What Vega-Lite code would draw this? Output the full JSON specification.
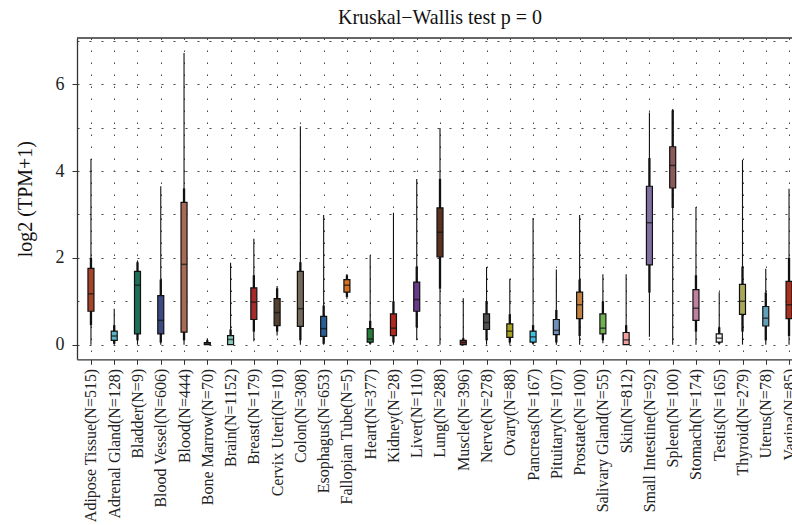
{
  "$schema": "https://vega.github.io/schema/vega-lite/v6.json",
  "autosize": {"type": "none"},
  "padding": {"left": 77, "top": 38, "right": 0, "bottom": 166},
  "width": 715,
  "height": 321.3,
  "background": "white",
  "config": {
    "view": {"stroke": null},
    "font": "Liberation Serif"
  },
  "title": {
    "text": "Kruskal−Wallis test p = 0",
    "font": "Liberation Serif",
    "fontSize": 20,
    "fontWeight": "normal",
    "color": "#111",
    "anchor": "middle",
    "frame": "group",
    "dx": 5.5,
    "offset": 9
  },
  "layer": [
    {
      "data": {
        "values": [
          {"tissue": "Adipose Tissue(N=515)", "min": 0, "lo": 0.45, "q1": 0.77, "med": 1.17, "q3": 1.76, "hi": 2.0, "max": 4.28},
          {"tissue": "Adrenal Gland(N=128)", "min": 0, "lo": 0.02, "q1": 0.1, "med": 0.2, "q3": 0.31, "hi": 0.45, "max": 0.83},
          {"tissue": "Bladder(N=9)", "min": 0, "lo": 0.1, "q1": 0.25, "med": 1.37, "q3": 1.69, "hi": 1.9, "max": 1.94},
          {"tissue": "Blood Vessel(N=606)", "min": 0, "lo": 0.05, "q1": 0.25, "med": 0.56, "q3": 1.13, "hi": 1.5, "max": 3.65},
          {"tissue": "Blood(N=444)", "min": 0, "lo": 0.1, "q1": 0.29, "med": 1.85, "q3": 3.28, "hi": 3.6, "max": 6.72},
          {"tissue": "Bone Marrow(N=70)", "min": 0, "lo": 0, "q1": 0.0, "med": 0.02, "q3": 0.05, "hi": 0.1, "max": 0.14},
          {"tissue": "Brain(N=1152)", "min": 0, "lo": 0, "q1": 0.0, "med": 0.12, "q3": 0.21, "hi": 0.35, "max": 1.89},
          {"tissue": "Breast(N=179)", "min": 0.08, "lo": 0.3, "q1": 0.58, "med": 0.98, "q3": 1.31, "hi": 1.6, "max": 2.44},
          {"tissue": "Cervix Uteri(N=10)", "min": 0.21, "lo": 0.3, "q1": 0.44, "med": 0.74, "q3": 1.06, "hi": 1.3, "max": 1.35},
          {"tissue": "Colon(N=308)", "min": 0, "lo": 0.1, "q1": 0.42, "med": 0.83, "q3": 1.69, "hi": 1.9, "max": 5.03},
          {"tissue": "Esophagus(N=653)", "min": 0, "lo": 0.02, "q1": 0.19, "med": 0.37, "q3": 0.65, "hi": 0.9, "max": 2.99},
          {"tissue": "Fallopian Tube(N=5)", "min": 1.06, "lo": 1.1, "q1": 1.21, "med": 1.37, "q3": 1.5, "hi": 1.6, "max": 1.63},
          {"tissue": "Heart(N=377)", "min": 0, "lo": 0.02, "q1": 0.06, "med": 0.13, "q3": 0.37, "hi": 0.55, "max": 2.06},
          {"tissue": "Kidney(N=28)", "min": 0, "lo": 0.05, "q1": 0.21, "med": 0.38, "q3": 0.71, "hi": 1.0, "max": 3.04},
          {"tissue": "Liver(N=110)", "min": 0.1, "lo": 0.4, "q1": 0.77, "med": 1.04, "q3": 1.44, "hi": 1.8, "max": 3.82},
          {"tissue": "Lung(N=288)", "min": 0, "lo": 1.29, "q1": 2.02, "med": 2.59, "q3": 3.15, "hi": 3.82, "max": 4.99},
          {"tissue": "Muscle(N=396)", "min": 0, "lo": 0, "q1": 0.0, "med": 0.05, "q3": 0.1, "hi": 0.15, "max": 1.07},
          {"tissue": "Nerve(N=278)", "min": 0, "lo": 0.1, "q1": 0.35, "med": 0.51, "q3": 0.71, "hi": 1.0, "max": 1.79},
          {"tissue": "Ovary(N=88)", "min": 0, "lo": 0.05, "q1": 0.17, "med": 0.31, "q3": 0.48, "hi": 0.7, "max": 1.52},
          {"tissue": "Pancreas(N=167)", "min": 0, "lo": 0.02, "q1": 0.06, "med": 0.18, "q3": 0.31, "hi": 0.45, "max": 2.92},
          {"tissue": "Pituitary(N=107)", "min": 0, "lo": 0.05, "q1": 0.23, "med": 0.33, "q3": 0.58, "hi": 0.8, "max": 1.73},
          {"tissue": "Prostate(N=100)", "min": 0, "lo": 0.2, "q1": 0.6, "med": 0.92, "q3": 1.21, "hi": 1.5, "max": 2.99},
          {"tissue": "Salivary Gland(N=55)", "min": 0.03, "lo": 0.1, "q1": 0.25, "med": 0.38, "q3": 0.71, "hi": 1.0, "max": 1.62},
          {"tissue": "Skin(N=812)", "min": 0, "lo": 0.02, "q1": 0.0, "med": 0.11, "q3": 0.28, "hi": 0.45, "max": 1.62},
          {"tissue": "Small Intestine(N=92)", "min": 0.18, "lo": 1.2, "q1": 1.84, "med": 2.81, "q3": 3.65, "hi": 4.3, "max": 5.35},
          {"tissue": "Spleen(N=100)", "min": 0, "lo": 3.15, "q1": 3.61, "med": 4.13, "q3": 4.56, "hi": 5.4, "max": 5.43},
          {"tissue": "Stomach(N=174)", "min": 0, "lo": 0.3, "q1": 0.56, "med": 0.84, "q3": 1.27, "hi": 1.6, "max": 3.17},
          {"tissue": "Testis(N=165)", "min": 0, "lo": 0.02, "q1": 0.06, "med": 0.15, "q3": 0.25, "hi": 0.4, "max": 1.21},
          {"tissue": "Thyroid(N=279)", "min": 0, "lo": 0.3, "q1": 0.7, "med": 1.0, "q3": 1.39, "hi": 1.8, "max": 4.26},
          {"tissue": "Uterus(N=78)", "min": 0, "lo": 0.1, "q1": 0.43, "med": 0.61, "q3": 0.88, "hi": 1.2, "max": 1.75},
          {"tissue": "Vagina(N=85)", "min": 0, "lo": 0.2, "q1": 0.6, "med": 0.92, "q3": 1.46, "hi": 2.0, "max": 3.59}
        ]
      },
      "encoding": {
        "x": {
          "field": "tissue",
          "type": "nominal",
          "sort": null,
          "title": null,
          "scale": {"type": "point", "padding": 0.3635, "align": 0.825},
          "axis": {
            "labelAngle": -90,
            "labelAlign": "right",
            "labelBaseline": "middle",
            "labelFont": "Liberation Serif",
            "labelFontSize": 16,
            "labelColor": "#222",
            "labelPadding": 4,
            "tickSize": 5,
            "tickColor": "#333",
            "domainColor": "#333",
            "domainWidth": 1.3,
            "grid": true,
            "gridColor": "#444",
            "gridDash": [1.5, 10.5],
            "gridWidth": 1,
            "labelOverlap": false
          }
        }
      },
      "layer": [
        {
          "mark": {"type": "rule", "color": "#111", "strokeWidth": 1.1},
          "encoding": {
            "y": {
              "field": "min",
              "type": "quantitative",
              "title": "log2 (TPM+1)",
              "scale": {"domain": [-0.337, 7.066], "nice": false, "zero": false},
              "axis": {
                "values": [0, 1, 2, 3, 4, 5, 6, 7],
                "labelExpr": "datum.value % 2 === 0 ? datum.label : ''",
                "tickOpacity": {"condition": {"test": "datum.value % 2 === 0", "value": 1}, "value": 0},
                "tickSize": 5,
                "tickColor": "#333",
                "domainColor": "#333",
                "domainWidth": 1.3,
                "labelFont": "Liberation Serif",
                "labelFontSize": 18,
                "labelColor": "#222",
                "labelPadding": 8,
                "titleFont": "Liberation Serif",
                "titleFontSize": 20,
                "titleFontWeight": "normal",
                "titleColor": "#111",
                "titlePadding": 20,
                "grid": true,
                "gridColor": "#444",
                "gridDash": [2, 10],
                "gridWidth": 1
              }
            },
            "y2": {"field": "max"}
          }
        },
        {
          "mark": {"type": "rule", "color": "#111", "strokeWidth": 2.3},
          "encoding": {
            "y": {"field": "lo", "type": "quantitative"},
            "y2": {"field": "hi"}
          }
        },
        {
          "mark": {"type": "bar", "size": 6, "stroke": "#111", "strokeWidth": 1.2},
          "encoding": {
            "y": {"field": "q1", "type": "quantitative"},
            "y2": {"field": "q3"},
            "fill": {
              "field": "tissue",
              "type": "nominal",
              "legend": null,
              "scale": {
                "domain": ["Adipose Tissue(N=515)", "Adrenal Gland(N=128)", "Bladder(N=9)", "Blood Vessel(N=606)", "Blood(N=444)", "Bone Marrow(N=70)", "Brain(N=1152)", "Breast(N=179)", "Cervix Uteri(N=10)", "Colon(N=308)", "Esophagus(N=653)", "Fallopian Tube(N=5)", "Heart(N=377)", "Kidney(N=28)", "Liver(N=110)", "Lung(N=288)", "Muscle(N=396)", "Nerve(N=278)", "Ovary(N=88)", "Pancreas(N=167)", "Pituitary(N=107)", "Prostate(N=100)", "Salivary Gland(N=55)", "Skin(N=812)", "Small Intestine(N=92)", "Spleen(N=100)", "Stomach(N=174)", "Testis(N=165)", "Thyroid(N=279)", "Uterus(N=78)", "Vagina(N=85)"],
                "range": ["#a8432a", "#5ab4c8", "#1f6e5a", "#3b4a80", "#a86a55", "#777777", "#8ac8b8", "#a52a2a", "#54402e", "#74685a", "#2a5f95", "#d87020", "#2a7a3a", "#b02a20", "#6a3a8a", "#5a3020", "#7a3030", "#505050", "#a8a020", "#40c0e0", "#7090b8", "#c08040", "#70b050", "#f0a0a0", "#8070a0", "#8a5a58", "#c080a0", "#f0f0f0", "#a8a858", "#60a0b8", "#a83020"]
              }
            }
          }
        },
        {
          "mark": {"type": "tick", "color": "#111", "thickness": 1.5, "size": 6},
          "encoding": {
            "y": {"field": "med", "type": "quantitative"}
          }
        }
      ]
    },
    {
      "data": {"values": [{"edge": "top"}]},
      "mark": {"type": "rule", "color": "#333", "strokeWidth": 1.3},
      "encoding": {
        "y": {"datum": 7.066, "type": "quantitative"}
      }
    }
  ]
}
